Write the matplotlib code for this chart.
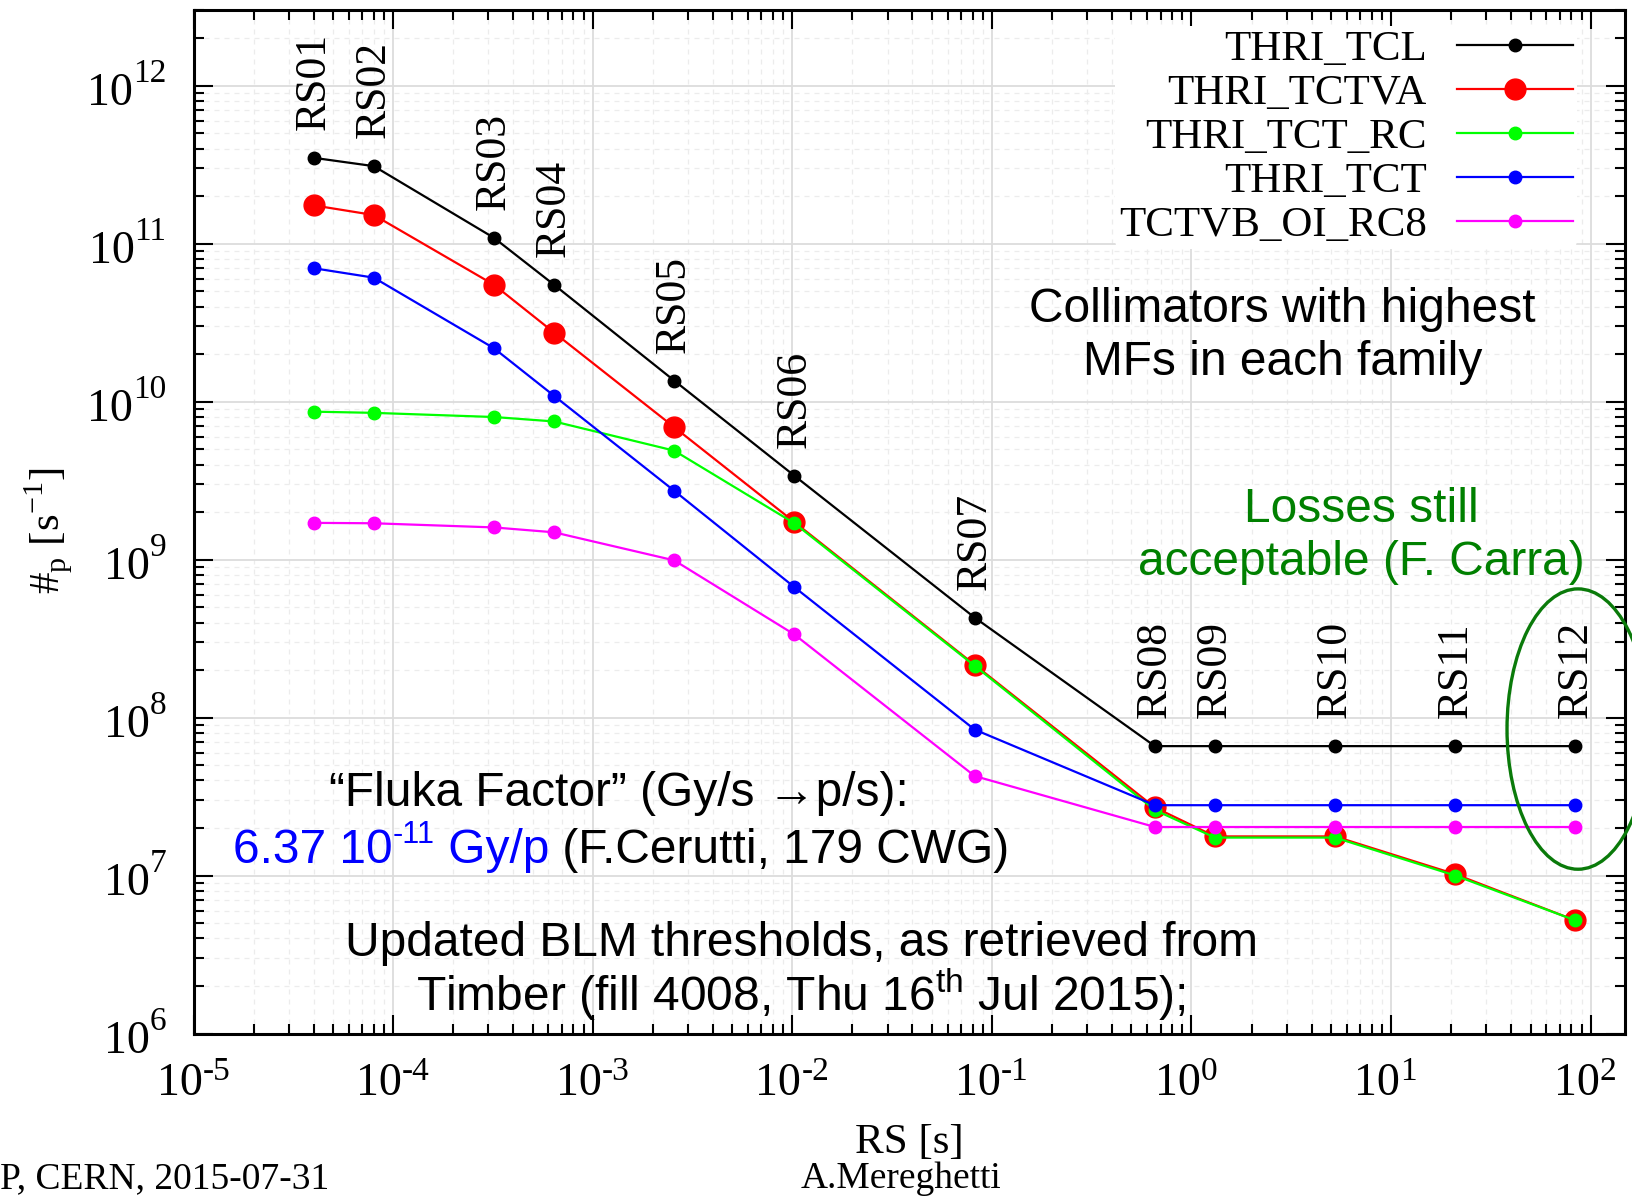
import matplotlib
matplotlib.use("Agg")
import matplotlib.pyplot as plt
from matplotlib.patches import Ellipse
from matplotlib.ticker import LogLocator, NullFormatter
from matplotlib.transforms import blended_transform_factory

# running sums of the BLM system [s]
rs_names = ["RS01", "RS02", "RS03", "RS04", "RS05", "RS06",
            "RS07", "RS08", "RS09", "RS10", "RS11", "RS12"]
rs_time = [4e-5, 8e-5, 3.2e-4, 6.4e-4, 2.56e-3, 1.024e-2,
           8.192e-2, 0.655, 1.31, 5.24, 20.97, 83.89]

# protons/s at threshold
thri_tcl = [3.5e11, 3.1e11, 1.09e11, 5.5e10, 1.36e10, 3.4e9,
            4.3e8, 6.6e7, 6.6e7, 6.6e7, 6.6e7, 6.6e7]
thri_tctva = [1.75e11, 1.52e11, 5.5e10, 2.74e10, 6.9e9, 1.73e9,
              2.16e8, 2.7e7, 1.77e7, 1.77e7, 1.02e7, 5.2e6]
thri_tct_rc = [8.65e9, 8.5e9, 8.0e9, 7.5e9, 4.9e9, 1.7e9,
               2.13e8, 2.6e7, 1.74e7, 1.74e7, 1.0e7, 5.2e6]
thri_tct = [7.0e10, 6.1e10, 2.18e10, 1.09e10, 2.73e9, 6.7e8,
            8.4e7, 2.79e7, 2.79e7, 2.79e7, 2.79e7, 2.79e7]
tctvb_oi_rc8 = [1.71e9, 1.7e9, 1.6e9, 1.49e9, 9.9e8, 3.36e8,
                4.27e7, 2.03e7, 2.03e7, 2.03e7, 2.03e7, 2.03e7]

x_decades = [-5, -4, -3, -2, -1, 0, 1, 2]
y_decades = [6, 7, 8, 9, 10, 11, 12]

serif = "Liberation Serif"
sans = ["Liberation Sans", "DejaVu Sans"]

fig = plt.figure(figsize=(16.32, 11.99), dpi=100)
ax = fig.add_axes([0.1186, 0.138, 0.8769, 0.8533])
ax.set_xscale("log")
ax.set_yscale("log")
ax.set_xlim(1e-5, 148)
ax.set_ylim(1e6, 3e12)

lw = 1.6
l_red, = ax.plot(rs_time, thri_tctva, "-o", color="#ff0000", lw=lw, ms=15, label="THRI_TCTVA", zorder=3)
l_grn, = ax.plot(rs_time, thri_tct_rc, "-o", color="#00ff00", lw=lw, ms=9, label="THRI_TCT_RC", zorder=4)
l_mag, = ax.plot(rs_time, tctvb_oi_rc8, "-o", color="#ff00ff", lw=lw, ms=9, label="TCTVB_OI_RC8", zorder=5)
l_blu, = ax.plot(rs_time, thri_tct, "-o", color="#0000ff", lw=lw, ms=9, label="THRI_TCT", zorder=6)
l_blk, = ax.plot(rs_time, thri_tcl, "-o", color="black", lw=lw, ms=9, label="THRI_TCL", zorder=7)

for name, x, y in zip(rs_names, rs_time, thri_tcl):
    ax.annotate(name, xy=(x, y), xytext=(0, 20), textcoords="offset points",
                rotation=90, ha="center", va="bottom", fontsize=31.5, family=serif)

# axes styling
for s in ax.spines.values():
    s.set_linewidth(2.2)
for axis in (ax.xaxis, ax.yaxis):
    axis.set_major_locator(LogLocator(base=10, numticks=20))
    axis.set_minor_locator(LogLocator(base=10, subs=range(2, 10), numticks=20))
    axis.set_major_formatter(NullFormatter())
    axis.set_minor_formatter(NullFormatter())
ax.tick_params(which="both", direction="in", top=True, right=True, width=1.5)
ax.tick_params(which="major", length=14)
ax.tick_params(which="minor", length=7)
ax.grid(which="major", color="#dcdcdc", lw=1.3)
ax.grid(which="minor", color="#ececec", lw=0.9, ls=(0, (4, 4)))
ax.set_axisbelow(True)

# gnuplot-like tick labels: "10" with a large superscript
xtr = blended_transform_factory(ax.transData, ax.transAxes)
for e in x_decades:
    base = ax.annotate("10", xy=(10.0 ** e, 0), xycoords=xtr, xytext=(6.5, -44),
                       textcoords="offset points", ha="right", va="baseline",
                       fontsize=33, family=serif)
    ax.annotate(str(e), xy=(1, 1), xycoords=base, xytext=(0, -13),
                textcoords="offset points", ha="left", va="baseline",
                fontsize=24, family=serif)
ytr = blended_transform_factory(ax.transAxes, ax.transData)
for e in y_decades:
    sup = ax.annotate(str(e), xy=(0, 10.0 ** e), xycoords=ytr, xytext=(-19.5, 2.5),
                      textcoords="offset points", ha="right", va="baseline",
                      fontsize=24, family=serif)
    ax.annotate("10", xy=(0, 0), xycoords=sup, xytext=(0, -11.5),
                textcoords="offset points", ha="right", va="baseline",
                fontsize=33, family=serif)

fig.text(0.557, 0.0467, "RS [s]", ha="center", va="center", fontsize=31, family=serif)
ax.set_ylabel("#$_\\mathdefault{p}$ [s$^\\mathdefault{-1}$]", fontsize=31, family=serif)
ax.yaxis.set_label_coords(-0.083, 0.491)

leg = ax.legend(handles=[l_blk, l_red, l_grn, l_blu, l_mag], loc="upper right",
                bbox_to_anchor=(0.967, 0.985), markerfirst=False, frameon=True,
                prop={"family": serif, "size": 31}, handlelength=2.7,
                handletextpad=0.7, labelspacing=0.11, borderpad=0.1, borderaxespad=0)
leg.get_frame().set_edgecolor("none")
leg.get_frame().set_facecolor("white")
leg.get_frame().set_alpha(1)
leg.set_zorder(10)

# annotations
fs = 34.5
fs_sup = 22
ax.text(0.7607, 0.6817, "Collimators with highest\nMFs in each family", transform=ax.transAxes,
        ha="center", va="center", fontsize=fs, family=sans, linespacing=1.23)
ax.text(0.816, 0.4862, "Losses still\nacceptable (F. Carra)", transform=ax.transAxes,
        ha="center", va="center", fontsize=fs, family=sans, color="#008000", linespacing=1.23)
ax.text(0.2973, 0.235, "\u201cFluka Factor\u201d (Gy/s \u2192p/s):", transform=ax.transAxes,
        ha="center", va="center", fontsize=fs, family=sans)

t1 = ax.text(0.0276, 0.157, "6.37 10", transform=ax.transAxes,
             ha="left", va="bottom", fontsize=fs, family=sans, color="#0000ff")
t2 = ax.annotate("-11", xy=(1, 0.52), xycoords=t1, ha="left", va="bottom",
                 fontsize=fs_sup, family=sans, color="#0000ff")
t3 = ax.annotate(" Gy/p", xy=(1, 0), xycoords=(t2, t1), ha="left", va="bottom",
                 fontsize=fs, family=sans, color="#0000ff")
ax.annotate(" (F.Cerutti, 179 CWG)", xy=(1, 0), xycoords=t3, ha="left", va="bottom",
            fontsize=fs, family=sans)

ax.text(0.4247, 0.060, "Updated BLM thresholds, as retrieved from\n"
        "Timber (fill 4008, Thu 16$^{\\mathdefault{th}}$ Jul 2015);", transform=ax.transAxes,
        ha="center", va="center", fontsize=fs, family=sans, linespacing=1.02)

ax.add_patch(Ellipse((0.9674, 0.2976), 0.0992, 0.274, transform=ax.transAxes,
                     fill=False, edgecolor="#0a7a0a", lw=2.4, clip_on=False, zorder=8))

fig.text(0.0, 0.0166, "P, CERN, 2015-07-31", ha="left", va="center", fontsize=27, family=serif)
fig.text(0.552, 0.0166, "A.Mereghetti", ha="center", va="center", fontsize=27, family=serif)

fig.savefig("out.png", dpi=100)
